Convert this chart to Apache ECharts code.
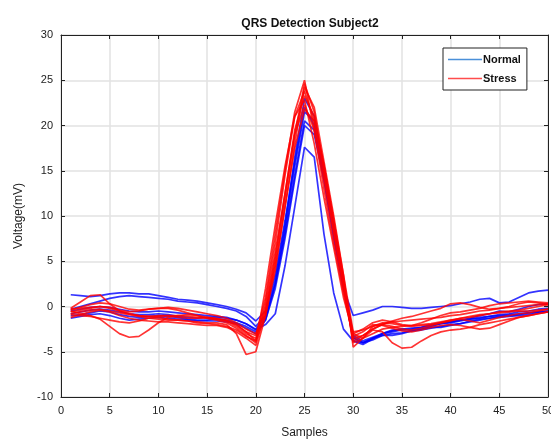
<!DOCTYPE html>
<html><head><meta charset="utf-8">
<script src="https://cdn.jsdelivr.net/npm/echarts@6/dist/echarts.min.js"></script>
<style>html,body{margin:0;padding:0;background:#fff}#c{width:551px;height:442px}</style>
</head><body><div id="c"></div>
<script>
const xTicks = [0,5,10,15,20,25,30,35,40,45,50];
const yTicks = [-10,-5,0,5,10,15,20,25,30];
// sample index 1..50
const normal1 = [1.3,1.2,1.1,1.2,1.4,1.5,1.5,1.4,1.4,1.2, 1.0,0.8,0.7,0.6,0.4, 0.2,0.0,-0.3,-0.7,-1.6, -0.5,3.5,9.5,16.0,22.0, 20.0,14.0,7.5,2.0,-1.0, -0.7,-0.4,0.0,0.0,-0.1, -0.2,-0.2,-0.1,0.0,0.1, 0.3,0.5,0.8,0.9,0.4, 0.5,1.0,1.5,1.7,1.8];
const normal2 = [-0.3,0.0,0.3,0.6,0.9,1.1,1.2,1.1,1.0,0.9, 0.8,0.6,0.5,0.4,0.2, 0.0,-0.2,-0.5,-1.1,-2.2, -1.0,3.0,9.0,16.5,23.0, 21.0,15.0,8.5,2.5,-3.2, -3.8,-3.4,-3.0,-2.8,-2.6, -2.5,-2.3,-2.0,-1.8,-1.7, -1.5,-1.3,-1.0,-0.8,-0.5, -0.6,-0.3,0.0,0.2,0.3];
const normal3 = [-1.3,-1.1,-0.9,-0.8,-1.0,-1.3,-1.5,-1.4,-1.3,-1.2, -1.3,-1.4,-1.5,-1.6,-1.6, -1.6,-1.7,-1.9,-2.4,-3.0, -1.5,2.5,8.5,15.5,21.5, 20.5,15.5,9.0,3.0,-3.5, -4.0,-3.7,-3.2,-3.0,-2.9, -2.7,-2.6,-2.4,-2.2,-2.0, -1.9,-1.7,-1.5,-1.3,-1.2, -1.1,-1.0,-0.9,-0.7,-0.6];
const normal4 = [-0.8,-0.6,-0.4,-0.3,-0.4,-0.6,-0.8,-0.9,-0.9,-0.8, -0.9,-1.1,-1.2,-1.3,-1.2, -1.2,-1.3,-1.5,-1.9,-2.5, -1.2,2.5,8.0,14.5,20.5, 19.5,14.5,8.5,2.5,-3.8, -4.2,-3.6,-3.0,-2.6,-2.5, -2.6,-2.5,-2.2,-1.9,-1.8, -1.6,-1.4,-1.3,-1.1,-0.9, -0.8,-0.6,-0.5,-0.3,-0.2];
const normal5 = [-1.0,-0.9,-0.7,-0.5,-0.6,-0.9,-1.1,-1.2,-1.1,-1.0, -1.1,-1.2,-1.4,-1.5,-1.5, -1.4,-1.5,-1.8,-2.2,-2.8, -1.5,2.0,7.5,14.0,20.0, 19.0,14.0,8.0,2.0,-3.4, -4.0,-3.5,-3.2,-3.2,-3.0, -2.7,-2.5,-2.3,-2.3,-2.1, -1.9,-1.6,-1.4,-1.3,-1.1, -1.0,-0.9,-0.7,-0.6,-0.5];
const normal6 = [-0.5,-0.3,-0.1,0.0,-0.1,-0.3,-0.5,-0.6,-0.6,-0.5, -0.6,-0.7,-0.8,-0.9,-1.0, -1.1,-1.2,-1.5,-1.9,-2.6, -2.0,-0.8,4.5,11.0,17.6, 16.5,8.0,1.5,-2.5,-3.8, -4.0,-3.5,-3.0,-2.7,-2.5, -2.4,-2.3,-2.1,-1.9,-1.7, -1.5,-1.4,-1.2,-1.1,-1.0, -0.9,-0.8,-0.7,-0.6,-0.5];

const stress1 = [-0.2,0.5,1.2,1.3,0.3,-0.5,-0.8,-1.0,-1.1,-1.0, -1.0,-1.2,-1.3,-1.3,-1.2, -1.3,-1.5,-2.0,-2.8,-3.2, 1.0,8.0,15.0,21.5,25.0, 19.5,13.0,7.0,1.5,-3.5, -3.2,-2.5,-2.0,-2.2,-2.5, -2.6,-2.4,-2.1,-1.8,-1.5, -1.3,-1.2,-1.0,-0.8,-0.6, -0.5,-0.4,-0.2,0.0,0.2];
const stress2 = [-0.5,-0.8,-1.0,-1.4,-2.2,-3.0,-3.4,-3.3,-2.6,-1.8, -1.2,-1.0,-0.9,-1.0,-1.2, -1.4,-1.6,-2.0,-2.8,-3.8, -1.0,5.0,12.0,19.0,24.6, 21.5,15.0,8.5,2.5,-3.0, -3.5,-3.0,-2.5,-2.3,-2.2, -2.1,-2.0,-1.9,-1.7,-1.5, -1.4,-1.6,-1.8,-1.5,-1.2, -1.0,-0.8,-0.7,-0.5,-0.3];
const stress3 = [-0.3,-0.2,-0.1,0.0,-0.2,-0.5,-0.8,-1.0,-1.1,-1.2, -1.4,-1.5,-1.6,-1.7,-1.8, -1.8,-2.0,-3.0,-5.3,-5.0, -1.0,4.0,11.0,18.0,24.2, 22.0,16.0,10.0,3.5,-4.5, -3.5,-2.2,-1.8,-1.9,-2.1, -2.2,-2.1,-2.0,-1.8,-1.6, -1.3,-1.1,-0.9,-0.8,-0.7, -0.6,-0.5,-0.5,-0.4,-0.3];
const stress4 = [-0.8,-0.6,-0.4,-0.3,-0.5,-0.7,-0.9,-1.1,-1.3,-1.4, -1.5,-1.5,-1.6,-1.8,-1.9, -2.0,-2.2,-2.6,-3.3,-3.8, 0.5,7.0,14.5,21.0,23.8, 20.5,14.5,8.5,2.5,-4.0, -3.5,-2.6,-2.8,-4.0,-4.6, -4.5,-3.8,-3.2,-2.8,-2.6, -2.5,-2.3,-2.0,-1.8,-1.6, -1.4,-1.2,-1.0,-0.8,-0.6];
const stress5 = [-1.2,-0.9,-0.6,-0.4,-0.6,-1.0,-1.3,-1.5,-1.6,-1.7, -1.7,-1.8,-1.9,-2.0,-2.1, -2.1,-2.3,-2.8,-3.5,-4.3, -0.5,5.5,12.5,19.5,23.3, 21.0,15.5,9.5,3.0,-3.8, -3.2,-2.5,-2.0,-1.6,-1.3, -1.1,-0.8,-0.5,-0.2,0.3, 0.4,0.2,-0.1,-0.3,-0.2, 0.0,0.3,0.5,0.4,0.2];
const stress6 = [-0.6,-0.4,-0.2,0.0,-0.1,-0.4,-0.6,-0.5,-0.3,-0.2, -0.2,-0.4,-0.7,-1.0,-1.3, -1.5,-1.8,-2.4,-3.2,-4.0, 2.0,9.0,15.5,21.0,22.8, 18.0,12.0,6.5,1.0,-3.0, -2.5,-1.8,-1.5,-1.7,-2.0, -2.1,-1.8,-1.4,-1.0,-0.7, -0.6,-0.4,-0.2,0.1,0.3, 0.4,0.5,0.6,0.5,0.4];
const stress7 = [-0.9,-1.0,-1.1,-1.3,-1.5,-1.7,-1.8,-1.6,-1.3,-1.1, -1.0,-1.0,-1.1,-1.2,-1.3, -1.4,-1.6,-2.2,-3.0,-3.5, 0.0,6.0,12.5,19.0,22.3, 19.5,14.0,8.0,2.0,-3.3, -2.8,-2.0,-2.1,-2.4,-2.7, -2.8,-2.6,-2.3,-2.1,-2.0, -2.1,-2.3,-2.5,-2.4,-2.0, -1.6,-1.2,-1.0,-0.8,-0.6];
const stress8 = [-0.4,-0.1,0.2,0.4,0.3,0.0,-0.3,-0.4,-0.3,-0.2, -0.1,-0.2,-0.4,-0.6,-0.8, -1.0,-1.3,-1.8,-2.5,-3.0, -0.5,4.5,11.0,17.5,21.8, 20.5,15.5,9.5,3.5,-2.8, -2.6,-2.2,-1.9,-1.7,-1.6, -1.5,-1.4,-1.3,-1.2,-1.0, -0.9,-0.7,-0.5,-0.4,-0.2, -0.1,0.0,0.1,0.2,0.3];

const normalSeries = [normal1, normal2, normal3, normal4, normal5, normal6];
const stressSeries = [stress1, stress2, stress3, stress4, stress5, stress6, stress7, stress8];

function pairs(arr){ return arr.map((v,i)=>[i+1, v]); }
function mk(name, arr, color){
  return {name, type:'line', data:pairs(arr), symbol:'none', smooth:false,
    lineStyle:{color, width:1.7, opacity:0.8}, itemStyle:{color}, silent:true, animation:false, z:name==='Stress'?3:2};
}
const series = [];
normalSeries.forEach(a=>series.push(mk('Normal', a, '#0000ff')));
stressSeries.forEach(a=>series.push(mk('Stress', a, '#ff0000')));

const font = 'Liberation Sans';
const axCommon = {
  axisLine:{show:true, onZero:false, lineStyle:{color:'#222', width:1}},
  axisTick:{show:true, inside:true, length:4, lineStyle:{color:'#222'}},
  splitLine:{show:true, lineStyle:{color:'#e2e2e2', width:1.5}},
};
const chart = echarts.init(document.getElementById('c'), null, {renderer:'canvas'});
chart.setOption({
  animation:false,
  backgroundColor:'#fff',
  title:{text:'QRS Detection Subject2', left:305, top:13, textAlign:'center',
    textStyle:{fontFamily:font, fontSize:12, fontWeight:'bold', color:'#111'}},
  grid:{left:61, right:3, top:35, bottom:45, show:false, outerBoundsMode:'none', containLabel:false},
  legend:{orient:'vertical', left:443, top:48, icon:'rect', itemWidth:34, itemHeight:1.5, itemGap:8,
    padding:[6,6,6,5], borderColor:'#222', borderWidth:1, backgroundColor:'#fff',
    textStyle:{fontFamily:font, fontSize:11, fontWeight:'bold', color:'#111', padding:[0,0,0,-4]},
    data:[{name:'Normal', itemStyle:{color:'#4a90d9'}}, {name:'Stress', itemStyle:{color:'#ff4d4d'}}]},
  xAxis:[
    Object.assign({type:'value', min:0, max:50, interval:5, position:'bottom',
      name:'Samples', nameLocation:'middle', nameGap:30,
      nameTextStyle:{fontFamily:font, fontSize:12, color:'#222'},
      axisLabel:{fontFamily:font, fontSize:11, color:'#222', margin:8}}, axCommon),
    Object.assign({type:'value', min:0, max:50, interval:5, position:'top',
      axisLabel:{show:false}}, axCommon, {splitLine:{show:false}})
  ],
  yAxis:[
    Object.assign({type:'value', min:-10, max:30, interval:5, position:'left',
      name:'Voltage(mV)', nameLocation:'middle', nameGap:36, nameRotate:90,
      nameTextStyle:{fontFamily:font, fontSize:12, color:'#222'},
      axisLabel:{fontFamily:font, fontSize:11, color:'#222', margin:8}}, axCommon),
    Object.assign({type:'value', min:-10, max:30, interval:5, position:'right',
      axisLabel:{show:false}}, axCommon, {splitLine:{show:false}})
  ],
  series
});
</script></body></html>
